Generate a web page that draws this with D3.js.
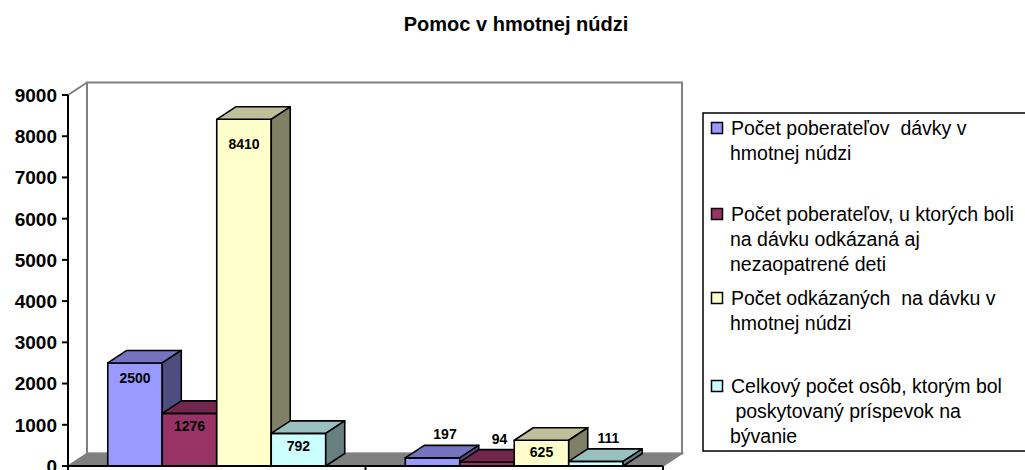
<!DOCTYPE html>
<html>
<head>
<meta charset="utf-8">
<script src="https://cdn.jsdelivr.net/npm/d3@7"></script>
<style>
  body { margin: 0; background: #fff; }
  svg { display: block; font-family: Arial, "Liberation Sans", sans-serif; }
</style>
</head>
<body>
<svg id="chart" width="1025" height="470"></svg>
<script>
// chart data
const categories = ["1", "2"];
const series = [
  "Počet poberateľov  dávky v hmotnej núdzi",
  "Počet poberateľov, u ktorých boli na dávku odkázaná aj nezaopatrené deti",
  "Počet odkázaných  na dávku v hmotnej núdzi",
  "Celkový počet osôb, ktorým bol  poskytovaný príspevok na bývanie"
];
const values = [
  [2500, 197],
  [1276, 94],
  [8410, 625],
  [792, 111]
];
const legendLines = [
  ["Počet poberateľov  dávky v", "hmotnej núdzi"],
  ["Počet poberateľov, u ktorých boli", "na dávku odkázaná aj", "nezaopatrené deti"],
  ["Počet odkázaných  na dávku v", "hmotnej núdzi"],
  ["Celkový počet osôb, ktorým bol", " poskytovaný príspevok na", "bývanie"]
];
const yTicks = [0, 1000, 2000, 3000, 4000, 5000, 6000, 7000, 8000, 9000];
const colors = ["#9999FF", "#993366", "#FFFFCC", "#CCFFFF"];

const svg = d3.select("#chart");

// plot geometry
const plotLeft = 68, plotRight = 663, plotBottom = 466, plotTop = 95;
const dx = 19, dy = 12.5;   // 3d depth offset
const GRAY = "#808080";

const y = d3.scaleLinear().domain([0, 9000]).range([plotBottom, plotTop]);
const x0 = d3.scaleBand().domain(categories).range([plotLeft, plotRight]);
const x1 = d3.scaleBand().domain(d3.range(series.length))
  .range([0, x0.bandwidth()]).paddingOuter(0.73);

function shade(c, k) {
  const r = d3.rgb(c);
  return d3.rgb(r.r * k, r.g * k, r.b * k).formatHex();
}

// title
svg.append("text")
  .attr("x", 516).attr("y", 31)
  .attr("text-anchor", "middle")
  .attr("font-size", 20).attr("font-weight", "bold")
  .text("Pomoc v hmotnej núdzi");

// walls
svg.append("rect")
  .attr("x", plotLeft + dx).attr("y", plotTop - dy)
  .attr("width", plotRight - plotLeft).attr("height", plotBottom - plotTop)
  .attr("fill", "#fff").attr("stroke", GRAY).attr("stroke-width", 2);
svg.append("line")
  .attr("x1", plotLeft).attr("y1", plotTop).attr("x2", plotLeft + dx).attr("y2", plotTop - dy)
  .attr("stroke", GRAY).attr("stroke-width", 2);

// floor
svg.append("path")
  .attr("d", `M${plotLeft},${plotBottom}L${plotRight},${plotBottom}L${plotRight + dx},${plotBottom - dy}L${plotLeft + dx},${plotBottom - dy}Z`)
  .attr("fill", GRAY).attr("stroke", GRAY).attr("stroke-width", 1.5);

// bars
const bw = x1.bandwidth();
categories.forEach((c, ci) => {
  series.forEach((s, si) => {
    const v = values[si][ci];
    const bx = x0(c) + x1(si);
    const by = y(v);
    const g = svg.append("g")
      .attr("stroke", "#000").attr("stroke-width", 1.6).attr("stroke-linejoin", "round");
    g.append("rect")
      .attr("x", bx).attr("y", by).attr("width", bw).attr("height", plotBottom - by)
      .attr("fill", colors[si]);
    g.append("path")
      .attr("d", `M${bx},${by}L${bx + dx},${by - dy}L${bx + bw + dx},${by - dy}L${bx + bw},${by}Z`)
      .attr("fill", shade(colors[si], 0.75));
    g.append("path")
      .attr("d", `M${bx + bw},${by}L${bx + bw + dx},${by - dy}L${bx + bw + dx},${plotBottom - dy}L${bx + bw},${plotBottom}Z`)
      .attr("fill", shade(colors[si], 0.5));

    // value label
    const h = plotBottom - by;
    const inside = h >= 20;
    svg.append("text")
      .attr("x", inside ? bx + bw / 2 : bx + bw / 2 + dx / 2 + 3)
      .attr("y", inside ? by + 11 + h * 0.04 : by - dy - 11)
      .attr("dy", "0.35em")
      .attr("text-anchor", "middle")
      .attr("font-size", 14).attr("font-weight", "bold")
      .text(v);
  });
});

// axes
svg.append("line")
  .attr("x1", plotLeft).attr("y1", plotTop).attr("x2", plotLeft).attr("y2", plotBottom)
  .attr("stroke", "#000").attr("stroke-width", 2);
svg.append("line")
  .attr("x1", plotLeft).attr("y1", plotBottom).attr("x2", plotRight).attr("y2", plotBottom)
  .attr("stroke", "#000").attr("stroke-width", 2);

svg.selectAll("ytick")
  .data(yTicks)
  .join("line")
  .attr("x1", plotLeft - 6).attr("x2", plotLeft)
  .attr("y1", d => y(d)).attr("y2", d => y(d))
  .attr("stroke", "#000").attr("stroke-width", 2);
svg.selectAll("ylabel")
  .data(yTicks)
  .join("text")
  .attr("x", plotLeft - 11).attr("y", d => y(d))
  .attr("dy", "0.36em")
  .attr("text-anchor", "end")
  .attr("font-size", 19).attr("font-weight", "bold")
  .text(d => d);

const xTicks = categories.map(c => x0(c)).concat([plotRight]);
svg.selectAll("xtick")
  .data(xTicks)
  .join("line")
  .attr("x1", d => d).attr("x2", d => d)
  .attr("y1", plotBottom).attr("y2", plotBottom + 6)
  .attr("stroke", "#000").attr("stroke-width", 2);

// legend
const legend = svg.append("g");
legend.append("rect")
  .attr("x", 703).attr("y", 113).attr("width", 340).attr("height", 338)
  .attr("fill", "#fff").attr("stroke", "#000").attr("stroke-width", 1.5);
const itemY = [128, 214, 298, 386];
legendLines.forEach((lines, i) => {
  legend.append("rect")
    .attr("x", 711.5).attr("y", itemY[i] - 5.5).attr("width", 11).attr("height", 11)
    .attr("fill", colors[i]).attr("stroke", "#000").attr("stroke-width", 1.5);
  lines.forEach((t, j) => {
    legend.append("text")
      .attr("x", j === 0 ? 731 : 730)
      .attr("y", itemY[i] + 7 + j * 25)
      .attr("font-size", 19.5)
      .style("white-space", "pre")
      .text(t);
  });
});
</script>
</body>
</html>
